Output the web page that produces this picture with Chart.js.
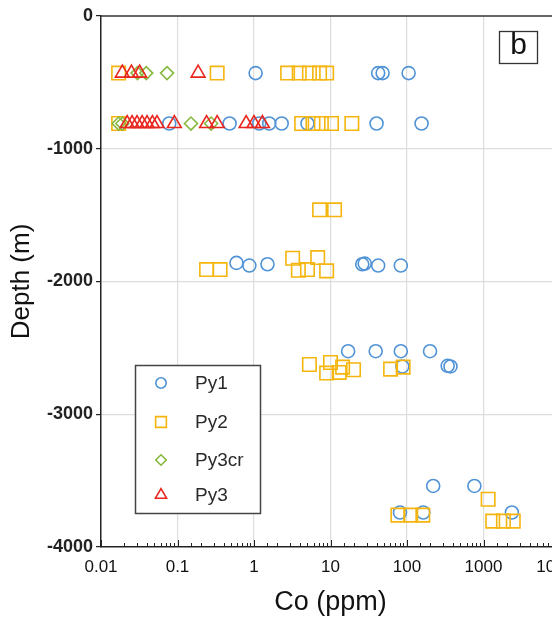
<!DOCTYPE html>
<html>
<head>
<meta charset="utf-8">
<script src="https://cdn.jsdelivr.net/npm/chart.js@4"></script>
<style>
  html, body { margin: 0; padding: 0; background: #fff; overflow: hidden; }
  canvas { display: block; }
</style>
</head>
<body>
<canvas id="grafico" width="600" height="622"></canvas>
<script>
// Co (ppm) by depth, per pyrite type

//Py1
const py1_co = [1.05, 42, 48, 105,
  0.078, 0.48, 1.17, 1.58, 2.3, 5.0, 40, 155,
  0.59, 0.87, 1.5, 26, 28, 42, 83,
  17, 39, 83, 200, 87, 340, 370,
  220, 760, 81, 163, 2350];
const py1_depth = [-430, -430, -430, -430,
  -810, -810, -810, -810, -810, -810, -810, -810,
  -1860, -1880, -1870, -1870, -1865, -1880, -1880,
  -2525, -2525, -2525, -2525, -2640, -2635, -2640,
  -3540, -3540, -3740, -3740, -3740];

//Py2
const py2_co = [0.017, 0.33, 2.75, 3.9, 5.3, 7.2, 8.9,
  0.017, 4.2, 5.9, 7.6, 10.3, 19,
  7.2, 11.3,
  3.2, 6.8, 0.24, 0.36, 3.8, 5.0, 8.9,
  5.3, 10, 14.4, 61, 89, 8.9, 13, 20,
  1150, 76, 112, 161, 1320, 1820, 2450];
const py2_depth = [-430, -430, -430, -430, -430, -430, -430,
  -810, -810, -810, -810, -810, -810,
  -1460, -1460,
  -1825, -1820, -1910, -1910, -1915, -1910, -1920,
  -2625, -2610, -2645, -2660, -2645, -2690, -2685, -2665,
  -3640, -3760, -3760, -3760, -3805, -3805, -3805];

//Py3cr
const py3cr_co = [0.03, 0.039, 0.073, 0.017, 0.019, 0.15, 0.275];
const py3cr_depth = [-430, -430, -430, -810, -810, -810, -810];

//Py3
const py3_co = [0.019, 0.025, 0.032, 0.186,
  0.022, 0.0255, 0.0296, 0.0345, 0.040, 0.047, 0.054, 0.091, 0.24, 0.33, 0.79, 1.0, 1.29];
const py3_depth = [-430, -430, -430, -430,
  -810, -810, -810, -810, -810, -810, -810, -810, -810, -810, -810, -810, -810];

const xTickLabels = ["0.01", "0.1", "1", "10", "100", "1000", "10000"];
const yTickLabels = ["-4000", "-3000", "-2000", "-1000", "0"];

const fuente = "'Liberation Sans', Arial, sans-serif";

function puntos(xs, ys) {
  return xs.map((x, i) => ({ x: x, y: ys[i] }));
}

function esDecada(v) {
  const e = Math.log10(v);
  return Math.abs(e - Math.round(e)) < 1e-6;
}

const series = [
  { label: "Py1", data: puntos(py1_co, py1_depth), pointStyle: "circle", pointRadius: 6.5, borderColor: "#4f93d6", order: 4 },
  { label: "Py2", data: puntos(py2_co, py2_depth), pointStyle: "rect", pointRadius: 9.5, borderColor: "#f5b50c", order: 3 },
  { label: "Py3cr", data: puntos(py3cr_co, py3cr_depth), pointStyle: "rectRot", pointRadius: 6.5, borderColor: "#86b83e", order: 2 },
  { label: "Py3", data: puntos(py3_co, py3_depth), pointStyle: "triangle", pointRadius: 8, borderColor: "#e8261e", order: 1 },
];
series.forEach((s) => {
  s.backgroundColor = "rgba(0,0,0,0)";
  s.borderWidth = 1.6;
  s.pointBorderWidth = 1.6;
  s.pointBorderColor = s.borderColor;
  s.pointBackgroundColor = "rgba(0,0,0,0)";
});

// legend marker, same shapes as the points
function marcador(ctx, estilo, r, x, y) {
  ctx.beginPath();
  if (estilo === "circle") {
    ctx.arc(x, y, r, 0, Math.PI * 2);
  } else if (estilo === "rect") {
    const h = r * Math.SQRT1_2;
    ctx.rect(x - h, y - h, 2 * h, 2 * h);
  } else if (estilo === "rectRot") {
    ctx.moveTo(x, y - r);
    ctx.lineTo(x + r, y);
    ctx.lineTo(x, y + r);
    ctx.lineTo(x - r, y);
    ctx.closePath();
  } else {
    const w = r * Math.sqrt(3) / 2;
    ctx.moveTo(x, y - r);
    ctx.lineTo(x + w, y + r / 2);
    ctx.lineTo(x - w, y + r / 2);
    ctx.closePath();
  }
  ctx.stroke();
}

// top frame line, inward ticks on the Co axis, legend box and panel letter
const extras = {
  id: "extras",
  beforeDatasetsDraw(chart) {
    const ctx = chart.ctx;
    const a = chart.chartArea;
    const xs = chart.scales.x;
    ctx.save();
    ctx.strokeStyle = "#333";
    ctx.lineWidth = 1.5;
    ctx.beginPath();
    ctx.moveTo(a.left, a.top);
    ctx.lineTo(a.right, a.top);
    ctx.stroke();
    ctx.strokeStyle = "#222";
    ctx.lineWidth = 1;
    xs.ticks.forEach((t) => {
      const px = Math.round(xs.getPixelForValue(t.value)) + 0.5;
      const len = esDecada(t.value) ? 7 : 4;
      ctx.beginPath();
      ctx.moveTo(px, a.bottom);
      ctx.lineTo(px, a.bottom - len);
      ctx.stroke();
    });
    ctx.restore();
  },
  afterDraw(chart) {
    const ctx = chart.ctx;
    ctx.save();
    // legend
    ctx.fillStyle = "#fff";
    ctx.fillRect(135, 365, 125, 148);
    ctx.strokeStyle = "#444";
    ctx.lineWidth = 1.5;
    ctx.strokeRect(135.5, 365.5, 125, 148);
    const filas = [383, 422, 460, 495];
    ctx.font = "19px " + fuente;
    ctx.textBaseline = "middle";
    series.forEach((s, i) => {
      ctx.strokeStyle = s.borderColor;
      ctx.lineWidth = 1.6;
      marcador(ctx, s.pointStyle, s.pointRadius * 0.8, 161, filas[i]);
      ctx.fillStyle = "#2a2a2a";
      ctx.fillText(s.label, 195, filas[i] + 1);
    });
    // panel letter
    ctx.fillStyle = "#fff";
    ctx.fillRect(499, 31, 38, 32);
    ctx.strokeStyle = "#333";
    ctx.lineWidth = 1.3;
    ctx.strokeRect(499.5, 31.5, 38, 32);
    ctx.fillStyle = "#111";
    ctx.font = "30px " + fuente;
    ctx.textAlign = "center";
    ctx.textBaseline = "middle";
    ctx.fillText("b", 518.5, 46);
    ctx.restore();
  },
};

const grafico = new Chart(document.getElementById("grafico"), {
  type: "scatter",
  data: { datasets: series },
  plugins: [extras],
  options: {
    responsive: false,
    animation: false,
    events: [],
    layout: { padding: { top: 16, right: 40, left: 0, bottom: 0 } },
    plugins: {
      legend: { display: false },
      tooltip: { enabled: false },
    },
    scales: {
      x: {
        type: "logarithmic",
        min: 0.01,
        max: 10000,
        afterFit: (scale) => { scale.height = 75; },
        border: { color: "#222", width: 1.5 },
        grid: {
          drawTicks: false,
          color: (c) => (c.tick && esDecada(c.tick.value) && c.tick.value > 0.01 ? "#dddddd" : "rgba(0,0,0,0)"),
          lineWidth: 1.2,
        },
        ticks: {
          autoSkip: false,
          maxRotation: 0,
          padding: 10,
          color: "#111",
          font: { family: fuente, size: 17 },
          callback: (v) => (esDecada(v) ? xTickLabels[Math.round(Math.log10(v)) + 2] : ""),
        },
        title: {
          display: true,
          text: "Co (ppm)",
          color: "#111",
          font: { family: fuente, size: 27 },
          padding: { top: 0, bottom: 3 },
        },
      },
      y: {
        min: -4000,
        max: 0,
        afterFit: (scale) => { scale.width = 101; },
        border: { color: "#222", width: 1.5 },
        grid: {
          color: (c) => (c.tick && c.tick.value !== 0 && c.tick.value !== -4000 ? "#dddddd" : "rgba(0,0,0,0)"),
          lineWidth: 1.2,
          tickColor: "#222",
          tickLength: 5,
        },
        ticks: {
          stepSize: 1000,
          padding: 3,
          color: "#222",
          font: { family: fuente, size: 18, weight: "bold" },
          callback: (v) => yTickLabels[Math.round((v + 4000) / 1000)],
        },
        title: {
          display: true,
          text: "Depth (m)",
          color: "#111",
          font: { family: fuente, size: 26 },
          padding: { top: 6, bottom: 0 },
        },
      },
    },
  },
});
</script>
</body>
</html>
